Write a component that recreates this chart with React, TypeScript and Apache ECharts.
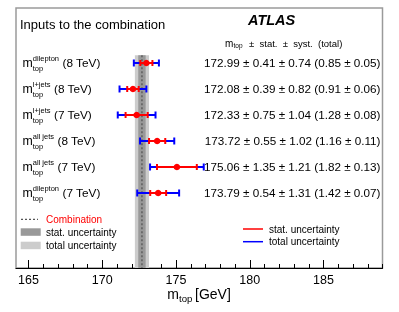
import React, { useEffect, useRef } from 'react';
import * as echarts from 'echarts';

const FONT = '"Liberation Sans", Arial, Helvetica, sans-serif';

// Measurements (top to bottom)
const supLabels = ['dilepton', 'l+jets', 'l+jets', 'all jets', 'all jets', 'dilepton'];
const energies = ['8 TeV', '8 TeV', '7 TeV', '8 TeV', '7 TeV', '7 TeV'];
const central = [172.99, 172.08, 172.33, 173.72, 175.06, 173.79];
const stat = [0.41, 0.39, 0.75, 0.55, 1.35, 0.54];
const syst = [0.74, 0.82, 1.04, 1.02, 1.21, 1.31];
const total = [0.85, 0.91, 1.28, 1.16, 1.82, 1.42];
const totalErr = [0.05, 0.06, 0.08, 0.11, 0.13, 0.07];

// Combination
const combValue = 172.69;
const combStat = 0.25;
const combTotal = 0.48;

// Axis
const xMin = 164.15;
const xMax = 189;
const majorTicks = [165, 170, 175, 180, 185];
const minorTicks = [165, 166, 167, 168, 169, 170, 171, 172, 173, 174, 175, 176, 177, 178, 179, 180, 181, 182, 183, 184, 185, 186, 187, 188, 189];

const RED = '#ff0000';
const BLUE = '#0000ff';
const DARK = '#999999';
const LIGHT = '#cccccc';

let measureCtx: CanvasRenderingContext2D | null = null;
function measure(text: string, size: number): number {
  if (!measureCtx) measureCtx = document.createElement('canvas').getContext('2d');
  if (!measureCtx) return text.length * size * 0.5;
  measureCtx.font = `${size}px ${FONT}`;
  return measureCtx.measureText(text).width;
}

export default function App() {
  const ref = useRef<HTMLDivElement>(null);
  useEffect(() => {
    if (!ref.current) return;
    const chart = echarts.init(ref.current, null, { renderer: 'svg' });
    const rowData = central.map((c, i) => [c, i, stat[i], total[i]]);

    const option: any = {
      animation: false,
      grid: {
        left: 16,
        right: 16.5,
        top: 8,
        bottom: 44,
        show: true,
        borderColor: '#9a9a9a',
        borderWidth: 1.5,
        backgroundColor: 'transparent',
      },
      xAxis: [
        {
          type: 'value',
          min: xMin,
          max: xMax,
          position: 'bottom',
          axisLine: { show: true, onZero: false, lineStyle: { color: '#000', width: 1 } },
          axisTick: { show: true, inside: true, length: 4, customValues: minorTicks, lineStyle: { color: '#000', width: 1 } },
          axisLabel: {
            show: true,
            customValues: majorTicks,
            margin: 5,
            color: '#000',
            fontSize: 12.5,
            fontFamily: FONT,
          },
          splitLine: { show: false },
        },
        {
          type: 'value',
          min: xMin,
          max: xMax,
          position: 'bottom',
          axisLine: { show: false, onZero: false },
          axisTick: { show: true, inside: true, length: 8, customValues: majorTicks, lineStyle: { color: '#000', width: 1 } },
          axisLabel: { show: false },
          splitLine: { show: false },
        },
      ],
      yAxis: {
        type: 'value',
        inverse: true,
        min: -2.115,
        max: 7.885,
        show: false,
      },
      series: [
        {
          type: 'custom',
          z: 1,
          xAxisIndex: 0,
          data: [[combValue, combStat, combTotal]],
          renderItem: (params: any, api: any) => {
            const cs = params.coordSys;
            const v = api.value(0), s = api.value(1), t = api.value(2);
            const top = api.coord([v, -0.3])[1];
            const bottom = cs.y + cs.height;
            const l2 = api.coord([v - t, 0])[0];
            const r2 = api.coord([v + t, 0])[0];
            const l1 = api.coord([v - s, 0])[0];
            const r1 = api.coord([v + s, 0])[0];
            const c = api.coord([v, 0])[0];
            return {
              type: 'group',
              children: [
                { type: 'rect', shape: { x: l2, y: top, width: r2 - l2, height: bottom - top }, style: { fill: LIGHT } },
                { type: 'rect', shape: { x: l1, y: top, width: r1 - l1, height: bottom - top }, style: { fill: DARK } },
                {
                  type: 'line',
                  shape: { x1: c, y1: top, x2: c, y2: bottom },
                  style: { stroke: '#555', lineWidth: 1.3, lineDash: [2, 2] },
                },
              ],
            };
          },
        },
        {
          type: 'custom',
          z: 3,
          xAxisIndex: 0,
          data: rowData,
          renderItem: (params: any, api: any) => {
            const v = api.value(0), r = api.value(1), s = api.value(2), t = api.value(3);
            const pc = api.coord([v, r]);
            const y = pc[1];
            const lt = api.coord([v - t, r])[0];
            const rt = api.coord([v + t, r])[0];
            const ls = api.coord([v - s, r])[0];
            const rs = api.coord([v + s, r])[0];
            const capB = 3.5, capR = 3;
            const lw = 2;
            const ln = (x1: number, y1: number, x2: number, y2: number, col: string) => ({
              type: 'line',
              shape: { x1, y1, x2, y2 },
              style: { stroke: col, lineWidth: lw },
            });
            return {
              type: 'group',
              children: [
                ln(lt, y, rt, y, BLUE),
                ln(lt, y - capB, lt, y + capB, BLUE),
                ln(rt, y - capB, rt, y + capB, BLUE),
                ln(ls, y, rs, y, RED),
                ln(ls, y - capR, ls, y + capR, RED),
                ln(rs, y - capR, rs, y + capR, RED),
                { type: 'circle', shape: { cx: pc[0], cy: y, r: 3.3 }, style: { fill: RED } },
              ],
            };
          },
        },
        {
          type: 'custom',
          z: 4,
          xAxisIndex: 0,
          data: rowData,
          renderItem: (params: any, api: any) => {
            const i = params.dataIndex;
            const r = api.value(1);
            const y = api.coord([central[i], r])[1];
            const x0 = 22.5;
            const mSize = 12.3;
            const supSize = 7.5;
            const mW = measure('m', mSize);
            const supW = Math.max(measure(supLabels[i], supSize), measure('top', supSize));
            const valText = `${central[i].toFixed(2)} ± ${stat[i].toFixed(2)} ± ${syst[i].toFixed(2)} (${total[i].toFixed(2)} ± ${totalErr[i].toFixed(2)})`;
            const txt = (x: number, yy: number, text: string, size: number, align = 'left') => ({
              type: 'text',
              x,
              y: yy,
              style: { text, fill: '#000', fontSize: size, fontFamily: FONT, align, verticalAlign: 'middle' },
            });
            return {
              type: 'group',
              children: [
                txt(x0, y, 'm', mSize),
                txt(x0 + mW, y - 4.7, supLabels[i], supSize),
                txt(x0 + mW, y + 5.3, 'top', supSize),
                txt(x0 + mW + supW + 3.5, y, `(${energies[i]})`, 11.8),
                txt(380.5, y, valText, 11.7, 'right'),
              ],
            };
          },
        },
      ],
      graphic: [
        { type: 'text', x: 20, y: 24, style: { text: 'Inputs to the combination', fontSize: 13, fontFamily: FONT, fill: '#000', verticalAlign: 'middle' } },
        { type: 'text', x: 248, y: 20, style: { text: 'ATLAS', fontSize: 14.5, fontWeight: 'bold', fontStyle: 'italic', fontFamily: FONT, fill: '#000', verticalAlign: 'middle' } },
        // header
        { type: 'text', x: 225, y: 43, style: { text: 'm', fontSize: 10, fontFamily: FONT, fill: '#000', verticalAlign: 'middle' } },
        { type: 'text', x: 233.5, y: 45.5, style: { text: 'top', fontSize: 6.5, fontFamily: FONT, fill: '#000', verticalAlign: 'middle' } },
        { type: 'text', x: 249, y: 43, style: { text: '±  stat.  ±  syst.  (total)', fontSize: 9.5, fontFamily: FONT, fill: '#000', verticalAlign: 'middle' } },
        // left legend
        { type: 'line', shape: { x1: 21, y1: 219.3, x2: 38, y2: 219.3 }, style: { stroke: '#555', lineWidth: 1.3, lineDash: [2, 2] } },
        { type: 'text', x: 46, y: 219, style: { text: 'Combination', fontSize: 10, fontFamily: FONT, fill: RED, verticalAlign: 'middle' } },
        { type: 'rect', shape: { x: 20.7, y: 228.3, width: 20, height: 7.5 }, style: { fill: DARK } },
        { type: 'text', x: 46, y: 232, style: { text: 'stat. uncertainty', fontSize: 10, fontFamily: FONT, fill: '#000', verticalAlign: 'middle' } },
        { type: 'rect', shape: { x: 20.7, y: 241.7, width: 20, height: 7.5 }, style: { fill: LIGHT } },
        { type: 'text', x: 46, y: 245.7, style: { text: 'total uncertainty', fontSize: 10, fontFamily: FONT, fill: '#000', verticalAlign: 'middle' } },
        // right legend
        { type: 'line', shape: { x1: 243, y1: 229, x2: 263, y2: 229 }, style: { stroke: RED, lineWidth: 1.5 } },
        { type: 'text', x: 269, y: 229, style: { text: 'stat. uncertainty', fontSize: 10, fontFamily: FONT, fill: '#000', verticalAlign: 'middle' } },
        { type: 'line', shape: { x1: 243, y1: 241.7, x2: 263, y2: 241.7 }, style: { stroke: BLUE, lineWidth: 1.5 } },
        { type: 'text', x: 269, y: 241.7, style: { text: 'total uncertainty', fontSize: 10, fontFamily: FONT, fill: '#000', verticalAlign: 'middle' } },
        // axis title
        { type: 'text', x: 167.3, y: 294, style: { text: 'm', fontSize: 14, fontFamily: FONT, fill: '#000', verticalAlign: 'middle' } },
        { type: 'text', x: 179, y: 298.5, style: { text: 'top', fontSize: 9.6, fontFamily: FONT, fill: '#000', verticalAlign: 'middle' } },
        { type: 'text', x: 195, y: 294, style: { text: '[GeV]', fontSize: 14, fontFamily: FONT, fill: '#000', verticalAlign: 'middle' } },
      ],
    };
    chart.setOption(option);
    return () => chart.dispose();
  }, []);
  return <div ref={ref} style={{ position: 'fixed', left: 0, top: 0, width: 399, height: 312 }} />;
}
